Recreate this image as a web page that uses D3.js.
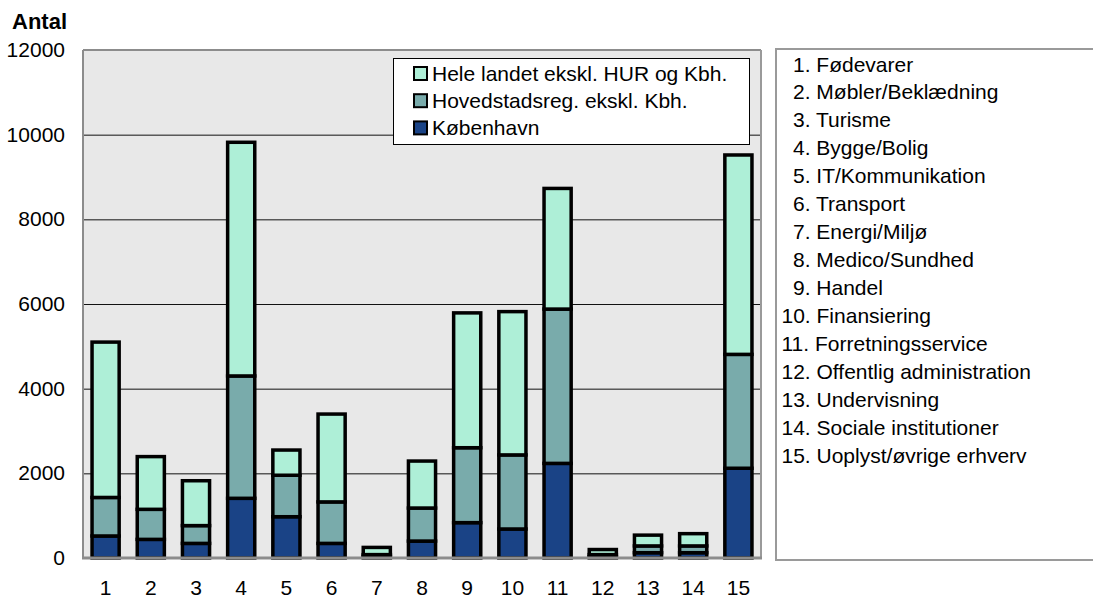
<!DOCTYPE html>
<html>
<head>
<meta charset="utf-8">
<script src="https://cdn.jsdelivr.net/npm/d3@7"></script>
<style>
  body { margin: 0; background: #fff; }
  svg { display: block; font-family: "Liberation Sans", Arial, sans-serif; }
</style>
</head>
<body>
<div id="chart"></div>
<script>
// categories (numbered on the x axis, named in the box to the right)
const categories = ["1", "2", "3", "4", "5", "6", "7", "8", "9", "10", "11", "12", "13", "14", "15"];
const branchNames = [
  "Fødevarer", "Møbler/Beklædning", "Turisme", "Bygge/Bolig", "IT/Kommunikation",
  "Transport", "Energi/Miljø", "Medico/Sundhed", "Handel", "Finansiering",
  "Forretningsservice", "Offentlig administration", "Undervisning",
  "Sociale institutioner", "Uoplyst/øvrige erhverv"
];

// series values (stack segments, bottom to top)
const kobenhavn = [520, 440, 345, 1410, 975, 345, 40, 400, 835, 685, 2235, 30, 125, 125, 2120];
const hovedstad = [910, 710, 420, 2890, 980, 980, 40, 780, 1770, 1750, 3645, 50, 160, 160, 2690];
const heleLandet = [3670, 1245, 1060, 5520, 595, 2075, 170, 1110, 3185, 3385, 2850, 120, 255, 290, 4710];

const seriesKeys = ["kbh", "hoved", "hele"];
const seriesLabels = {
  hele: "Hele landet ekskl. HUR og Kbh.",
  hoved: "Hovedstadsreg. ekskl. Kbh.",
  kbh: "København"
};
const yTicks = [0, 2000, 4000, 6000, 8000, 10000, 12000];

const colors = { kbh: "#1a4386", hoved: "#79abab", hele: "#aeefd7" };

const width = 1093, height = 598;
const plot = { left: 83, right: 761, top: 50, bottom: 558 };

const svg = d3.select("#chart").append("svg")
  .attr("width", width)
  .attr("height", height);

// build rows for the stack
const rows = categories.map((c, i) => ({
  cat: c, kbh: kobenhavn[i], hoved: hovedstad[i], hele: heleLandet[i]
}));
const stacked = d3.stack().keys(seriesKeys)(rows);

const x = d3.scaleBand()
  .domain(categories)
  .range([plot.left, plot.right])
  .paddingInner(0.4)
  .paddingOuter(0.2);

const y = d3.scaleLinear()
  .domain([0, 12000])
  .range([plot.bottom, plot.top]);

// plot background
svg.append("rect")
  .attr("x", plot.left).attr("y", plot.top)
  .attr("width", plot.right - plot.left)
  .attr("height", plot.bottom - plot.top)
  .attr("fill", "#e8e8e8");

// gridlines
svg.append("g")
  .selectAll("line")
  .data(yTicks.filter(t => t > 0 && t < 12000))
  .join("line")
  .attr("x1", plot.left).attr("x2", plot.right)
  .attr("y1", d => y(d) + 0.5).attr("y2", d => y(d) + 0.5)
  .attr("stroke", "#111")
  .attr("stroke-width", 1);

// plot frame (grey)
svg.append("line")
  .attr("x1", plot.left).attr("x2", plot.right)
  .attr("y1", plot.top).attr("y2", plot.top)
  .attr("stroke", "#8c8c8c").attr("stroke-width", 2);
svg.append("line")
  .attr("x1", plot.left).attr("x2", plot.left)
  .attr("y1", plot.top).attr("y2", plot.bottom)
  .attr("stroke", "#8c8c8c").attr("stroke-width", 2);
svg.append("line")
  .attr("x1", plot.right).attr("x2", plot.right)
  .attr("y1", plot.top).attr("y2", plot.bottom)
  .attr("stroke", "#9a9a9a").attr("stroke-width", 2);

// bars
svg.append("g")
  .selectAll("g")
  .data(stacked)
  .join("g")
  .attr("fill", d => colors[d.key])
  .selectAll("rect")
  .data(d => d)
  .join("rect")
  .attr("x", d => x(d.data.cat))
  .attr("y", d => y(d[1]))
  .attr("width", x.bandwidth())
  .attr("height", d => y(d[0]) - y(d[1]))
  .attr("stroke", "#000")
  .attr("stroke-width", 3.5);

// bottom axis line
svg.append("line")
  .attr("x1", plot.left - 1).attr("x2", plot.right + 1)
  .attr("y1", plot.bottom).attr("y2", plot.bottom)
  .attr("stroke", "#8c8c8c").attr("stroke-width", 3);

// y tick labels
svg.append("g")
  .selectAll("text")
  .data(yTicks)
  .join("text")
  .attr("x", 65)
  .attr("y", d => y(d) + 7)
  .attr("text-anchor", "end")
  .style("font-size", "21px")
  .attr("fill", "#000")
  .text(d => d);

// x tick labels
svg.append("g")
  .selectAll("text")
  .data(categories)
  .join("text")
  .attr("x", d => x(d) + x.bandwidth() / 2)
  .attr("y", 595)
  .attr("text-anchor", "middle")
  .style("font-size", "21px")
  .attr("fill", "#000")
  .text(d => d);

// axis title
svg.append("text")
  .attr("x", 12)
  .attr("y", 29)
  .style("font-size", "22px")
  .style("font-weight", "bold")
  .text("Antal");

// legend
const legend = svg.append("g");
legend.append("rect")
  .attr("x", 393.5).attr("y", 58.5)
  .attr("width", 356).attr("height", 86)
  .attr("fill", "#fff")
  .attr("stroke", "#000").attr("stroke-width", 1);

const legendOrder = ["hele", "hoved", "kbh"];
legend.selectAll("rect.sw")
  .data(legendOrder)
  .join("rect")
  .attr("class", "sw")
  .attr("x", 414)
  .attr("y", (_, i) => 67 + i * 27.2)
  .attr("width", 13)
  .attr("height", 13)
  .attr("fill", d => colors[d])
  .attr("stroke", "#000").attr("stroke-width", 2);

legend.selectAll("text")
  .data(legendOrder)
  .join("text")
  .attr("x", 432)
  .attr("y", (_, i) => 81 + i * 27.2)
  .style("font-size", "21px")
  .text(d => seriesLabels[d]);

// category name box on the right
svg.append("rect")
  .attr("x", 776).attr("y", 49)
  .attr("width", 340).attr("height", 511)
  .attr("fill", "#fff")
  .attr("stroke", "#9a9a9a").attr("stroke-width", 2);

svg.append("g")
  .selectAll("text")
  .data(branchNames)
  .join("text")
  .attr("x", (_, i) => i < 9 ? 793 : 781.5)
  .attr("y", (_, i) => 71.5 + i * 27.95)
  .style("font-size", "21px")
  .text((d, i) => `${i + 1}. ${d}`);
</script>
</body>
</html>
